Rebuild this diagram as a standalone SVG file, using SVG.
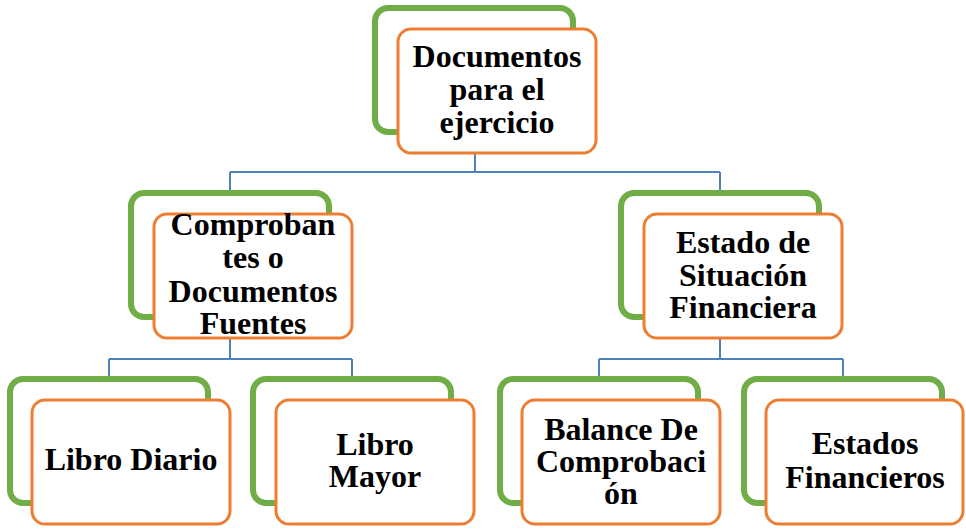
<svg xmlns="http://www.w3.org/2000/svg" width="966" height="529" viewBox="0 0 966 529">
<style>
.g{fill:none;stroke:#70AD47;stroke-width:6}
.o{fill:#fff;stroke:#ED7D31;stroke-width:3}
.t{font-family:"Liberation Serif","Times New Roman",serif;font-weight:bold;font-size:32px;fill:#000;text-anchor:middle}
.c{fill:none;stroke:#4F81BD;stroke-width:2}
</style>
<rect width="966" height="529" fill="#fff"/>
<g id="connectors">
<path class="c" d="M475 153V172M230 172H720M230 172V191M720 172V191"/>
<path class="c" d="M230 338V359M109 359H352M109 359V378M352 359V378"/>
<path class="c" d="M720 338V359M599 359H843M599 359V378M843 359V378"/>
</g>
<g id="n1">
<rect class="g" x="375" y="8" width="198" height="124" rx="13"/>
<rect class="o" x="398" y="29" width="198" height="124" rx="13"/>
<text class="t" x="497" y="67">Documentos</text>
<text class="t" x="497" y="100">para el</text>
<text class="t" x="497" y="133">ejercicio</text>
</g>
<g id="n2">
<rect class="g" x="131" y="193" width="198" height="124" rx="13"/>
<rect class="o" x="154" y="214" width="198" height="124" rx="13"/>
<text class="t" x="253" y="235">Comproban</text>
<text class="t" x="253" y="268">tes o</text>
<text class="t" x="253" y="302">Documentos</text>
<text class="t" x="253" y="334">Fuentes</text>
</g>
<g id="n3">
<rect class="g" x="621" y="193" width="198" height="124" rx="13"/>
<rect class="o" x="644" y="214" width="198" height="124" rx="13"/>
<text class="t" x="743" y="253">Estado de</text>
<text class="t" x="743" y="286">Situación</text>
<text class="t" x="743" y="318">Financiera</text>
</g>
<g id="n4">
<rect class="g" x="10" y="379" width="198" height="124" rx="13"/>
<rect class="o" x="32" y="400" width="198" height="124" rx="13"/>
<text class="t" x="131" y="470">Libro Diario</text>
</g>
<g id="n5">
<rect class="g" x="253" y="379" width="198" height="124" rx="13"/>
<rect class="o" x="276" y="400" width="198" height="124" rx="13"/>
<text class="t" x="375" y="455">Libro</text>
<text class="t" x="375" y="487">Mayor</text>
</g>
<g id="n6">
<rect class="g" x="500" y="379" width="198" height="124" rx="13"/>
<rect class="o" x="522" y="400" width="198" height="124" rx="13"/>
<text class="t" x="621" y="440">Balance De</text>
<text class="t" x="621" y="472">Comprobaci</text>
<text class="t" x="621" y="504">ón</text>
</g>
<g id="n7">
<rect class="g" x="744" y="379" width="198" height="124" rx="13"/>
<rect class="o" x="766" y="400" width="197" height="124" rx="13"/>
<text class="t" x="865" y="454">Estados</text>
<text class="t" x="865" y="488">Financieros</text>
</g>
</svg>
